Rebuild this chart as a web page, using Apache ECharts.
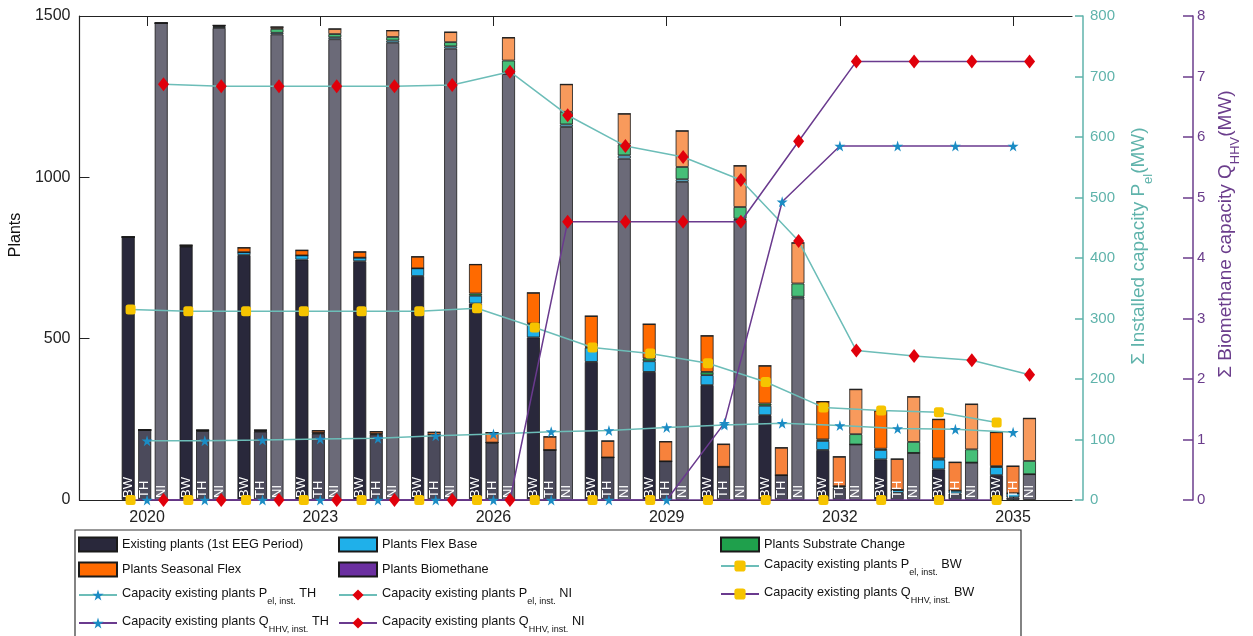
<!DOCTYPE html>
<html>
<head>
<meta charset="utf-8">
<script src="https://cdn.jsdelivr.net/npm/echarts@6/dist/echarts.min.js"></script>
<style>
html,body{margin:0;padding:0;background:#ffffff;}
#chart{width:1253px;height:636px;}
</style>
</head>
<body>
<div id="chart"></div>
<script>
// ---------------- DATA ----------------
const years = [2020,2021,2022,2023,2024,2025,2026,2027,2028,2029,2030,2031,2032,2033,2034,2035];
const xTickYears = [2020,2023,2026,2029,2032,2035];
const regions = ['BW','TH','NI'];

// Plants (left axis), per component and federal state
const existingBW   = [815,785,759,745,740,694,609,504,428,397,356,263,155,126,95,77];
const flexBaseBW   = [0,2,9,13,11,24,24,41,44,33,31,29,28,29,30,25];
const substrateBW  = [0,0,0,0,0,0,7,2,3,9,10,7,5,4,4,3];
const seasonalBW   = [0,3,14,16,18,36,90,95,95,106,112,117,117,118,121,105];
const biomethaneBW = [0,0,0,0,0,0,0,0,0,0,0,0,0,0,0,0];

const existingTH   = [217,214,212,206,203,200,177,155,132,120,103,77,38,22,20,8];
const flexBaseTH   = [0,1,2,2,2,2,1,0,0,0,0,0,5,9,9,13];
const substrateTH  = [0,0,0,0,0,0,0,0,0,0,0,0,0,0,0,0];
const seasonalTH   = [0,2,3,7,7,8,31,41,51,61,70,85,91,96,88,84];
const biomethaneTH = [0,0,0,0,0,0,0,0,0,0,0,0,0,0,0,0];

const existingNI   = [1478,1463,1443,1428,1417,1399,1320,1156,1058,986,868,625,172,146,116,80];
const flexBaseNI   = [0,4,5,6,7,7,4,8,10,8,4,5,0,0,0,0];
const substrateNI  = [0,2,12,10,11,13,38,39,34,38,36,41,32,34,41,41];
const seasonalNI   = [0,2,6,16,20,31,71,85,95,112,128,126,139,140,140,132];
const biomethaneNI = [0,0,0,0,0,0,0,0,0,0,0,0,0,0,0,0];

// Installed electric capacity P_el (MW, first right axis)
const pelBW = [315,312,312,312,312,312,317,285,252,242,226,195,153,148,145,128];
const pelTH = [98,98,99,101,102,106,109,113,115,120,124,127,123,118,117,112];
const pelNI = [687,684,684,684,684,686,708,636,585,567,529,428,247,238,231,207];

// Biomethane capacity Q_HHV (MW, second right axis)
const qBW = [0,0,0,0,0,0,0,0,0,0,0,0,0,0,0,0];
const qTH = [0,0,0,0,0,0,0,0,0,0,1.27,4.93,5.85,5.85,5.85,5.85];
const qNI = [0,0,0,0,0,0,0,4.6,4.6,4.6,4.6,5.93,7.25,7.25,7.25,7.25];

const componentNames = ['Existing plants (1st EEG Period)','Plants Flex Base','Plants Substrate Change','Plants Seasonal Flex','Plants Biomethane'];
const barData = {
  BW:[existingBW,flexBaseBW,substrateBW,seasonalBW,biomethaneBW],
  TH:[existingTH,flexBaseTH,substrateTH,seasonalTH,biomethaneTH],
  NI:[existingNI,flexBaseNI,substrateNI,seasonalNI,biomethaneNI]
};
const lineNames = {
  pBW:'Capacity existing plants P_el, inst. BW',
  pTH:'Capacity existing plants P_el, inst. TH',
  pNI:'Capacity existing plants P_el, inst. NI',
  qBW:'Capacity existing plants Q_HHV, inst. BW',
  qTH:'Capacity existing plants Q_HHV, inst. TH',
  qNI:'Capacity existing plants Q_HHV, inst. NI'
};

// ---------------- LAYOUT / STYLE ----------------
const W = 1253, H = 636;
const G = {left:77, right:1072, top:16, bottom:500};
const XMIN = 2018.83, XMAX = 2036.02;
const pxPerYear = (G.right - G.left) / (XMAX - XMIN);
const barGridLeft = G.left + (years[0] - 0.5 - XMIN) * pxPerYear;
const barGridRight = G.left + (years[years.length-1] + 0.5 - XMIN) * pxPerYear;
const BAR_W = 13, BAR_GAP_PX = 3.5;
const OFFSET = (BAR_W + BAR_GAP_PX) / pxPerYear; // offset (years) of BW / NI bar centres

const FONT = 'Liberation Sans';
const legendFont = 'Liberation Sans';
const legendSize = 12.7;
const TEAL = '#5fb3ab';
const TEAL_LINE = '#6cbdb8';
const PURPLE = '#6b3d8c';
const PURPLE_LINE = '#6a3a8e';
const YELLOW = '#f6c400';
const BLUE = '#1b8cc4';
const RED = '#e0000b';
const STAR = 'path://M50,0 L61,35 L98,35 L68,57 L79,91 L50,70 L21,91 L32,57 L2,35 L39,35 Z';

const colors = {
  BW:['#29283b','#1fb0ea','#1fa04c','#ff6a00','#6b2fa0'],
  TH:['#4b4a5b','#3fb2de','#3bb067','#f7823c','#7d48ac'],
  NI:['#6b6a78','#62bcdc','#46bf78','#f89a5c','#8f62b8']
};

const series = [];
regions.forEach(r=>{
  componentNames.forEach((n,i)=>{
    series.push({
      type:'bar', name:n, stack:r, xAxisIndex:2, yAxisIndex:3,
      barWidth:BAR_W, barGap:(BAR_GAP_PX/BAR_W*100).toFixed(1)+'%',
      data: barData[r][i],
      itemStyle:{color:colors[r][i], borderColor:'#1a1a1a', borderWidth:0.8},
      label: i===0 ? {
        show:true, position:'insideBottom', distance:2, rotate:90,
        align:'left', verticalAlign:'middle', color:'#ffffff',
        fontSize:13, fontFamily:FONT, formatter:()=>r
      } : {show:false},
      emphasis:{disabled:true},
      z:2
    });
  });
});

function lineSeries(key, values, off, yIdx, lineColor, symbol, size, symColor){
  return {
    type:'line', name:lineNames[key], xAxisIndex:0, yAxisIndex:yIdx,
    data: years.map((y,j)=>[y+off, values[j]]),
    symbol:symbol, symbolSize:size, showSymbol:true, showAllSymbol:true,
    lineStyle:{color:lineColor, width:1.5},
    itemStyle:{color:symColor},
    emphasis:{disabled:true},
    z:5
  };
}
series.push(lineSeries('pBW', pelBW, -OFFSET, 1, TEAL_LINE, 'roundRect', 10, YELLOW));
series.push(lineSeries('pTH', pelTH, 0, 1, TEAL_LINE, STAR, 11, BLUE));
series.push(lineSeries('pNI', pelNI, OFFSET, 1, TEAL_LINE, 'diamond', [11,14], RED));
series.push(lineSeries('qBW', qBW, -OFFSET, 2, PURPLE_LINE, 'roundRect', 10, YELLOW));
series.push(lineSeries('qTH', qTH, 0, 2, PURPLE_LINE, STAR, 11, BLUE));
series.push(lineSeries('qNI', qNI, OFFSET, 2, PURPLE_LINE, 'diamond', [11,14], RED));

function legendFormatter(name){
  const m = name.match(/^(.*?) ([PQ])_([A-Za-z]+), inst\. (\w+)$/);
  if(!m) return name;
  return '{m|'+m[1]+' '+m[2]+'}{s|'+m[3]+', inst.}{m| '+m[4]+'}';
}
const legendRich = {
  m:{fontSize:legendSize, lineHeight:17, verticalAlign:'top', fontFamily:legendFont, color:'#111'},
  s:{fontSize:9, lineHeight:10, verticalAlign:'top', padding:[11,0,0,0], fontFamily:legendFont, color:'#111'}
};
const legendSpec = [
  [componentNames[0], 78, 544, false], [componentNames[1], 338, 544, false], [componentNames[2], 720, 544, false],
  [componentNames[3], 78, 569, false], [componentNames[4], 338, 569, false], [lineNames.pBW, 720, 568, true],
  [lineNames.pTH, 78, 597, true], [lineNames.pNI, 338, 597, true], [lineNames.qBW, 720, 596, true],
  [lineNames.qTH, 78, 625, true], [lineNames.qNI, 338, 625, true]
];
const legends = legendSpec.map(([n,x,cy,rich])=>{
  const l = {
    data:[n], left:x, top: rich ? cy-10.5 : cy-7.5,
    orient:'horizontal', padding:0, itemGap:0, itemWidth:38, itemHeight:14,
    selectedMode:false, formatter:legendFormatter,
    textStyle:{fontSize:legendSize, fontFamily:legendFont, color:'#111', rich:legendRich}
  };
  if(!rich) l.icon = 'rect';
  return l;
});

function nameRich(color){
  return {
    m:{fontSize:19, lineHeight:23, verticalAlign:'top', color:color, fontFamily:FONT},
    s:{fontSize:13, lineHeight:13, verticalAlign:'top', padding:[13,0,0,0], color:color, fontFamily:FONT}
  };
}

const option = {
  animation:false,
  textStyle:{fontFamily:FONT},
  grid:[
    {left:G.left, right:W-G.right, top:G.top, bottom:H-G.bottom, containLabel:false},
    {left:barGridLeft, right:W-barGridRight, top:G.top, bottom:H-G.bottom, containLabel:false}
  ],
  legend: legends,
  graphic:[{type:'rect', shape:{x:75, y:530, width:946, height:112}, style:{fill:'none', stroke:'#333', lineWidth:1.2}, silent:true, z:-1}],
  xAxis:[
    {type:'value', gridIndex:0, position:'bottom', min:XMIN, max:XMAX,
     axisLine:{show:true, onZero:false, lineStyle:{color:'#222', width:1.2}},
     axisTick:{show:true, inside:true, length:10, customValues:xTickYears, lineStyle:{color:'#222'}},
     axisLabel:{show:true, customValues:xTickYears, fontSize:16, color:'#222', margin:10, formatter:v=>String(Math.round(v))},
     splitLine:{show:false}},
    {type:'value', gridIndex:0, position:'top', min:XMIN, max:XMAX,
     axisLine:{show:true, onZero:false, lineStyle:{color:'#222', width:1.2}},
     axisTick:{show:true, inside:true, length:10, customValues:xTickYears, lineStyle:{color:'#222'}},
     axisLabel:{show:false}, splitLine:{show:false}},
    {type:'category', gridIndex:1, data:years.map(String), show:false,
     axisLine:{show:false}, axisTick:{show:false}, axisLabel:{show:false}, splitLine:{show:false}}
  ],
  yAxis:[
    {type:'value', gridIndex:0, position:'left', min:0, max:1500, interval:500,
     name:'Plants', nameLocation:'middle', nameGap:51, nameRotate:90,
     nameTextStyle:{fontSize:16, color:'#111', fontFamily:FONT, padding:[0,0,0,46]},
     axisLine:{show:true, lineStyle:{color:'#222', width:1.2}},
     axisTick:{show:true, inside:true, length:10, lineStyle:{color:'#222'}},
     axisLabel:{fontSize:16, color:'#222', margin:9, formatter:v=>String(v)},
     splitLine:{show:false}},
    {type:'value', gridIndex:0, position:'right', offset:11, min:0, max:800, interval:100,
     name:'{m|\u03A3 Installed capacity P}{s|el}{m|(MW)}', nameLocation:'middle', nameGap:46, nameRotate:90,
     nameTextStyle:{color:TEAL, padding:[0,0,0,24], rich:nameRich(TEAL)},
     axisLine:{show:true, lineStyle:{color:TEAL, width:1.5}},
     axisTick:{show:true, inside:true, length:8, lineStyle:{color:TEAL, width:1.5}},
     axisLabel:{fontSize:15, color:TEAL, margin:7},
     splitLine:{show:false}},
    {type:'value', gridIndex:0, position:'right', offset:121, min:0, max:8, interval:1,
     name:'{m|\u03A3 Biomethane capacity Q}{s|HHV}{m|(MW)}', nameLocation:'middle', nameGap:22, nameRotate:90,
     nameTextStyle:{color:PURPLE, padding:[0,0,0,48], rich:nameRich(PURPLE)},
     axisLine:{show:true, lineStyle:{color:PURPLE, width:1.5}},
     axisTick:{show:true, inside:true, length:10, lineStyle:{color:PURPLE, width:1.5}},
     axisLabel:{fontSize:15, color:PURPLE, margin:4},
     splitLine:{show:false}},
    {type:'value', gridIndex:1, min:0, max:1500, show:false,
     axisLine:{show:false}, axisTick:{show:false}, axisLabel:{show:false}, splitLine:{show:false}}
  ],
  series: series
};
const chart = echarts.init(document.getElementById('chart'), null, {renderer:'canvas'});
chart.setOption(option);
</script>
</body>
</html>
